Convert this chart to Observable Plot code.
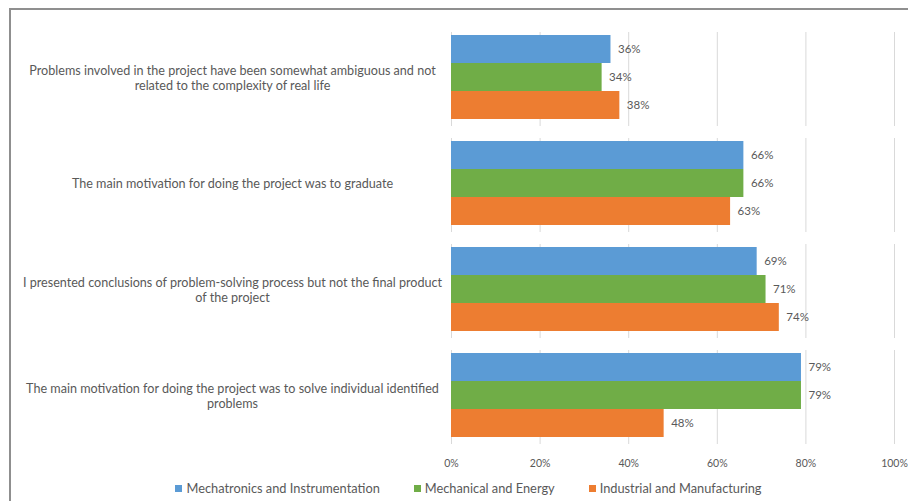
<!DOCTYPE html>
<html>
<head>
<meta charset="utf-8">
<script src="https://cdn.jsdelivr.net/npm/d3@7"></script>
<script src="https://cdn.jsdelivr.net/npm/@observablehq/plot@0.6"></script>
<style>
  html, body { margin: 0; padding: 0; background: #fff; }
  body { width: 908px; height: 501px; overflow: hidden; position: relative; font-family: Lato, "Open Sans", sans-serif; }
  #frame { position: absolute; left: 9px; top: 8px; width: 920px; height: 520px; border-top: 2px solid #8f8f8f; border-left: 2px solid #8f8f8f; box-sizing: border-box; pointer-events: none; }
  #chart { position: absolute; left: 0; top: 0; }
  #legend { position: absolute; left: 0; top: 480px; width: 908px; display: flex; justify-content: center; gap: 34px; font-size: 12.8px; color: #595959; padding-left: 29px; box-sizing: border-box; }
  .item { display: flex; align-items: center; gap: 4px; }
  .sw { width: 7px; height: 7px; display: inline-block; }
</style>
</head>
<body>
<div id="chart"></div>
<div id="legend"></div>
<div id="frame"></div>
<script>
const categories = [
  "Problems involved in the project have been somewhat ambiguous and not\nrelated to the complexity of real life",
  "The main motivation for doing the project was to graduate",
  "I presented conclusions of problem-solving process but not the final product\nof the project",
  "The main motivation for doing the project was to solve individual identified\nproblems"
];
const series = ["Mechatronics and Instrumentation", "Mechanical and Energy", "Industrial and Manufacturing"];
const colors = ["#5B9BD5", "#70AD47", "#ED7D31"];
const mechatronics = [36, 66, 69, 79];
const mechanical = [34, 66, 71, 79];
const industrial = [38, 63, 74, 48];
const xTicks = [0, 20, 40, 60, 80, 100];

const seriesValues = [mechatronics, mechanical, industrial];
const data = [];
categories.forEach((c, i) => {
  series.forEach((s, j) => data.push({category: c, series: s, value: seriesValues[j][i]}));
});

const textColor = "#595959";
const chart = Plot.plot({
  width: 908,
  height: 475,
  marginLeft: 451,
  marginRight: 14,
  marginTop: 22,
  marginBottom: 26,
  style: {fontFamily: "Lato, 'Open Sans', sans-serif", color: textColor, background: "transparent"},
  x: {domain: [0, 100], ticks: xTicks, tickFormat: d => d + "%", label: null},
  y: {domain: series, axis: null, paddingOuter: 0.38, paddingInner: 0},
  fy: {domain: categories, padding: 0, label: null},
  color: {domain: series, range: colors},
  marks: [
    Plot.ruleX(xTicks, {stroke: "#d9d9d9", strokeWidth: 1, insetTop: 8, insetBottom: 4}),
    Plot.barX(data, {fy: "category", y: "series", x: "value", fill: "series"}),
    Plot.text(data, {fy: "category", y: "series", x: "value", text: d => d.value + "%", textAnchor: "start", dx: 7, fontSize: 11.5, fill: textColor}),
    Plot.axisX({ticks: xTicks, tickFormat: d => d + "%", tickSize: 0, tickPadding: 11, fontSize: 10.5, label: null, fill: textColor}),
    Plot.axisFy({anchor: "left", tickSize: 0, tickPadding: 0, textAnchor: "middle", dx: -219, fontSize: 12.6, lineHeight: 1.2, label: null, fill: textColor})
  ]
});
document.getElementById("chart").appendChild(chart);

const legend = document.getElementById("legend");
series.forEach((s, i) => {
  const item = document.createElement("span");
  item.className = "item";
  const sw = document.createElement("span");
  sw.className = "sw";
  sw.style.background = colors[i];
  item.appendChild(sw);
  item.appendChild(document.createTextNode(s));
  legend.appendChild(item);
});
</script>
</body>
</html>
